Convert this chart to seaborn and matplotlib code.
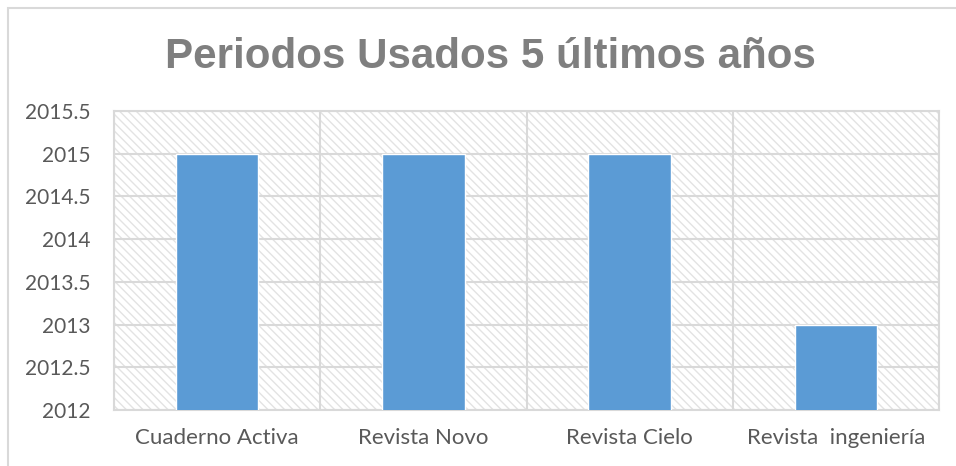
import matplotlib
matplotlib.use("Agg")
import matplotlib.pyplot as plt
import matplotlib.patches as mpatches
from matplotlib.ticker import FuncFormatter, MultipleLocator
import seaborn as sns

# -------------------------------
# Data
# -------------------------------
revistas = ["Cuaderno Activa", "Revista Novo", "Revista Cielo", "Revista  ingeniería"]
anios = [2015, 2015, 2015, 2013]
y_min, y_max = 2012, 2015.5

titulo = "Periodos Usados 5 últimos años"

# -------------------------------
# Style
# -------------------------------
sns.set_style("white")
plt.rcParams["font.family"] = ["Lato", "DejaVu Sans"]
plt.rcParams["hatch.linewidth"] = 1.0

gris_grid = "#D9D9D9"
gris_texto = "#595959"
azul = "#5B9BD5"

fig = plt.figure(figsize=(9.56, 4.66), dpi=100)
ax = fig.add_axes([114 / 956, 1 - 410 / 466, (939 - 114) / 956, (410 - 111) / 466])

# hatched background like the Excel chart
fondo = mpatches.Rectangle((0, 0), 1, 1, transform=ax.transAxes,
                           facecolor="white", edgecolor="#E3E3E3",
                           linewidth=0, hatch="\\\\\\\\", zorder=0)
ax.add_patch(fondo)

# -------------------------------
# Bars
# -------------------------------
sns.barplot(x=revistas, y=anios, color=azul, width=0.4,
            saturation=1, ax=ax, zorder=3)

ax.set_xlim(-0.5, len(revistas) - 0.5)
ax.set_ylim(y_min, y_max)
ax.yaxis.set_major_locator(MultipleLocator(0.5))
ax.yaxis.set_major_formatter(FuncFormatter(lambda v, p: f"{v:g}"))

# vertical lines between categories
ax.set_xticks([i + 0.5 for i in range(-1, len(revistas))], minor=True)
ax.grid(axis="y", which="major", color=gris_grid, linewidth=1.5, zorder=1)
ax.grid(axis="x", which="minor", color=gris_grid, linewidth=1.5, zorder=1)
ax.set_axisbelow(True)

for s in ax.spines.values():
    s.set_visible(True)
    s.set_color(gris_grid)
    s.set_linewidth(1.5)

ax.tick_params(axis="both", which="both", length=0)
ax.tick_params(axis="y", labelsize=15, labelcolor=gris_texto, pad=17)
ax.tick_params(axis="x", labelsize=16, labelcolor=gris_texto, pad=13)
ax.set_xlabel("")
ax.set_ylabel("")

# -------------------------------
# Title and outer frame
# -------------------------------
fig.text(490 / 956, 1 - 68 / 466, titulo, ha="center", va="baseline",
         fontsize=30.3, fontweight="bold", color="#7F7F7F",
         family=["Liberation Sans", "DejaVu Sans"])

marco = mpatches.Rectangle((7.5 / 956, -0.1), 1.2, 1 - 7.5 / 466 + 0.1,
                           transform=fig.transFigure, fill=False,
                           edgecolor=gris_grid, linewidth=1.5, clip_on=False)
fig.patches.append(marco)

plt.savefig("out.png", dpi=100)
